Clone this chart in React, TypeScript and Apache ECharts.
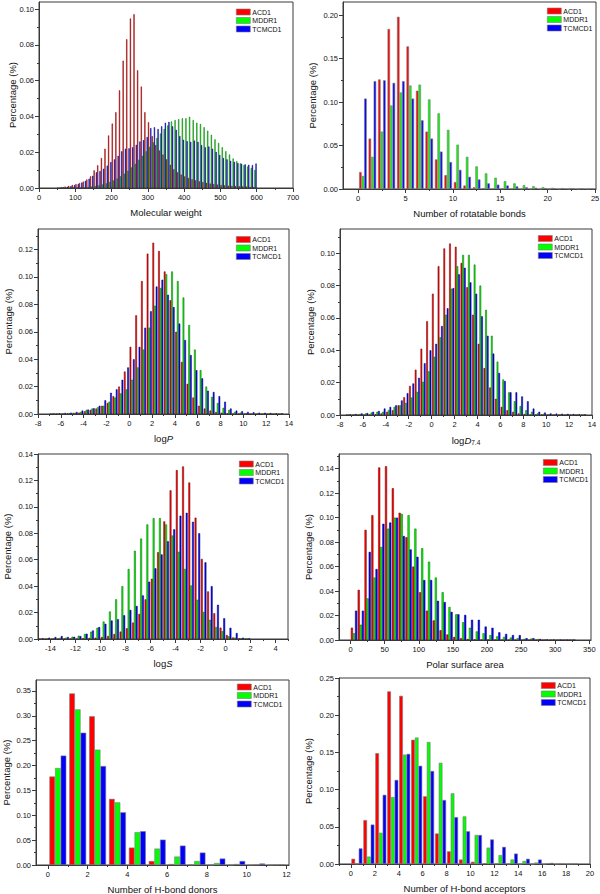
import React, { useEffect, useRef } from "react";
import * as echarts from "echarts";

const SERIES_NAMES = ["ACD1", "MDDR1", "TCMCD1"];
const FILL = ["#ff0000", "#00ff00", "#0000ff"];
const THIN_EDGE = ["#6e0000", "#005f00", "#00006e"];
const EDGE = "#7a7a7a";
const AXIS = "#3a3a3a";
const TEXT = "#111111";
const FONT = '"Liberation Sans", Arial, Helvetica, sans-serif';

// ---------- Molecular weight ----------
const mwBins = [55, 65, 75, 85, 95, 105, 115, 125, 135, 145, 155, 165, 175, 185, 195, 205, 215, 225, 235, 245, 255, 265, 275, 285, 295, 305, 315, 325, 335, 345, 355, 365, 375, 385, 395, 405, 415, 425, 435, 445, 455, 465, 475, 485, 495, 505, 515, 525, 535, 545, 555, 565, 575, 585, 595];
const mwACD1 = [0.0003, 0.0005, 0.0008, 0.0012, 0.0017, 0.0022, 0.0028, 0.0036, 0.0048, 0.0065, 0.0099, 0.0127, 0.0168, 0.022, 0.0294, 0.036, 0.0424, 0.0546, 0.0712, 0.0832, 0.0948, 0.0972, 0.0658, 0.0567, 0.0424, 0.0368, 0.029, 0.024, 0.021, 0.0187, 0.016, 0.013, 0.0105, 0.0088, 0.0075, 0.0065, 0.0056, 0.0049, 0.0043, 0.0037, 0.0033, 0.0029, 0.0025, 0.0022, 0.0019, 0.0017, 0.0015, 0.0013, 0.0012, 0.0011, 0.001, 0.0009, 0.0008, 0.0007, 0.0006];
const mwMDDR1 = [0, 0, 0, 0, 0.0001, 0.0001, 0.0002, 0.0003, 0.0005, 0.0008, 0.0011, 0.0015, 0.002, 0.0026, 0.0033, 0.0042, 0.0053, 0.0066, 0.008, 0.0096, 0.0115, 0.0135, 0.0158, 0.018, 0.0205, 0.023, 0.0255, 0.028, 0.0305, 0.033, 0.035, 0.0372, 0.038, 0.0385, 0.039, 0.039, 0.0398, 0.038, 0.0365, 0.0358, 0.034, 0.032, 0.0297, 0.0272, 0.0252, 0.0228, 0.0206, 0.0187, 0.0165, 0.015, 0.0138, 0.0128, 0.012, 0.0112, 0.0101];
const mwTCMCD1 = [0.0002, 0.0004, 0.0007, 0.0011, 0.0016, 0.0022, 0.003, 0.004, 0.0052, 0.0068, 0.0088, 0.0095, 0.0108, 0.0125, 0.0145, 0.016, 0.018, 0.0205, 0.022, 0.0222, 0.0228, 0.0242, 0.026, 0.0268, 0.0285, 0.0335, 0.034, 0.033, 0.0345, 0.0365, 0.037, 0.0345, 0.0325, 0.029, 0.027, 0.0262, 0.0258, 0.0265, 0.0258, 0.024, 0.0228, 0.0232, 0.022, 0.0202, 0.0185, 0.0168, 0.016, 0.0152, 0.0146, 0.014, 0.0135, 0.0132, 0.013, 0.0128, 0.0137];
const mwXTicks = [0, 100, 200, 300, 400, 500, 600, 700];
const mwYTicks = [0, 0.02, 0.04, 0.06, 0.08, 0.1];

// ---------- Rotatable bonds ----------
const rbBins = [0.5, 1.5, 2.5, 3.5, 4.5, 5.5, 6.5, 7.5, 8.5, 9.5, 10.5, 11.5, 12.5, 13.5, 14.5, 15.5, 16.5, 17.5, 18.5, 19.5, 20.5, 21.5, 22.5, 23.5, 24.5];
const rbACD1 = [0.0195, 0.058, 0.126, 0.184, 0.198, 0.164, 0.113, 0.066, 0.034, 0.016, 0.008, 0.004, 0.002, 0.001, 0.0006, 0.0004, 0.0003, 0.0002, 0.0001, 0.0001, 0, 0, 0, 0, 0];
const rbMDDR1 = [0.015, 0.037, 0.066, 0.096, 0.111, 0.119, 0.12, 0.103, 0.087, 0.068, 0.051, 0.037, 0.026, 0.018, 0.013, 0.009, 0.0065, 0.0045, 0.0033, 0.0022, 0.0014, 0.001, 0.0008, 0.0006, 0.0005];
const rbTCMCD1 = [0.104, 0.124, 0.125, 0.122, 0.124, 0.104, 0.079, 0.058, 0.043, 0.031, 0.022, 0.014, 0.011, 0.0065, 0.005, 0.004, 0.003, 0.002, 0.0015, 0.001, 0.0008, 0.0006, 0.0005, 0.0005, 0.0004];
const rbXTicks = [0, 5, 10, 15, 20, 25];
const rbYTicks = [0, 0.05, 0.1, 0.15, 0.2];

// ---------- logP ----------
const logPBins = [-6.75, -6.25, -5.75, -5.25, -4.75, -4.25, -3.75, -3.25, -2.75, -2.25, -1.75, -1.25, -0.75, -0.25, 0.25, 0.75, 1.25, 1.75, 2.25, 2.75, 3.25, 3.75, 4.25, 4.75, 5.25, 5.75, 6.25, 6.75, 7.25, 7.75, 8.25, 8.75, 9.25, 9.75, 10.25, 10.75, 11.25, 11.75, 12.25, 12.75, 13.25];
const logPACD1 = [0.0001, 0.0002, 0.0003, 0.0005, 0.0008, 0.001, 0.002, 0.003, 0.004, 0.006, 0.008, 0.013, 0.02, 0.031, 0.049, 0.072, 0.097, 0.117, 0.125, 0.119, 0.104, 0.083, 0.06, 0.038, 0.022, 0.012, 0.006, 0.004, 0.0025, 0.0015, 0.001, 0.0005, 0.0003, 0.0002, 0.0001, 0, 0, 0, 0, 0, 0];
const logPMDDR1 = [0.0002, 0.0003, 0.0004, 0.0006, 0.0009, 0.0015, 0.003, 0.004, 0.005, 0.006, 0.009, 0.012, 0.015, 0.018, 0.025, 0.034, 0.047, 0.063, 0.079, 0.092, 0.102, 0.104, 0.097, 0.085, 0.065, 0.047, 0.032, 0.02, 0.0125, 0.008, 0.0045, 0.003, 0.0015, 0.001, 0.0005, 0.0003, 0.0002, 0.0001, 0.0001, 0, 0];
const logPTCMCD1 = [0.0003, 0.0005, 0.0008, 0.001, 0.0015, 0.0025, 0.0032, 0.0042, 0.006, 0.01, 0.0155, 0.018, 0.025, 0.034, 0.04, 0.049, 0.063, 0.075, 0.093, 0.098, 0.087, 0.078, 0.066, 0.054, 0.043, 0.032, 0.026, 0.017, 0.016, 0.013, 0.009, 0.004, 0.0025, 0.002, 0.0015, 0.0012, 0.001, 0.0009, 0.0007, 0.0006, 0.0005];
const logXTicks = [-8, -6, -4, -2, 0, 2, 4, 6, 8, 10, 12, 14];
const logPYTicks = [0, 0.02, 0.04, 0.06, 0.08, 0.1, 0.12];

// ---------- logD7.4 ----------
const logDBins = [-7.25, -6.75, -6.25, -5.75, -5.25, -4.75, -4.25, -3.75, -3.25, -2.75, -2.25, -1.75, -1.25, -0.75, -0.25, 0.25, 0.75, 1.25, 1.75, 2.25, 2.75, 3.25, 3.75, 4.25, 4.75, 5.25, 5.75, 6.25, 6.75, 7.25, 7.75, 8.25, 8.75, 9.25, 9.75, 10.25, 10.75, 11.25, 11.75, 12.25, 12.75, 13.25];
const logDACD1 = [0, 0, 0.0001, 0.0002, 0.0003, 0.0005, 0.001, 0.002, 0.003, 0.006, 0.011, 0.018, 0.028, 0.041, 0.058, 0.075, 0.092, 0.103, 0.106, 0.104, 0.094, 0.079, 0.062, 0.044, 0.029, 0.017, 0.01, 0.005, 0.003, 0.002, 0.001, 0.0006, 0.0003, 0.0002, 0.0001, 0, 0, 0, 0, 0, 0, 0];
const logDMDDR1 = [0.0002, 0.0004, 0.0006, 0.001, 0.0015, 0.002, 0.002, 0.003, 0.005, 0.006, 0.0075, 0.0108, 0.0143, 0.0205, 0.027, 0.036, 0.048, 0.062, 0.078, 0.092, 0.099, 0.099, 0.093, 0.08, 0.065, 0.049, 0.033, 0.022, 0.014, 0.0085, 0.0055, 0.003, 0.002, 0.001, 0.0006, 0.0004, 0.0002, 0.0001, 0.0001, 0, 0, 0];
const logDTCMCD1 = [0.0004, 0.0006, 0.001, 0.0012, 0.002, 0.0025, 0.004, 0.005, 0.006, 0.009, 0.0135, 0.0195, 0.023, 0.032, 0.04, 0.044, 0.055, 0.066, 0.0785, 0.087, 0.091, 0.082, 0.075, 0.061, 0.049, 0.038, 0.026, 0.021, 0.014, 0.014, 0.0115, 0.0085, 0.004, 0.002, 0.0015, 0.001, 0.0009, 0.0008, 0.0007, 0.0006, 0.0005, 0.0004];
const logDYTicks = [0, 0.02, 0.04, 0.06, 0.08, 0.1];

// ---------- logS ----------
const logSBins = [-14.75, -14.25, -13.75, -13.25, -12.75, -12.25, -11.75, -11.25, -10.75, -10.25, -9.75, -9.25, -8.75, -8.25, -7.75, -7.25, -6.75, -6.25, -5.75, -5.25, -4.75, -4.25, -3.75, -3.25, -2.75, -2.25, -1.75, -1.25, -0.75, -0.25, 0.25, 0.75, 1.25, 1.75];
const logSACD1 = [0, 0, 0, 0, 0.0001, 0.0001, 0.0003, 0.0005, 0.0008, 0.001, 0.0015, 0.0023, 0.0038, 0.0056, 0.0081, 0.0124, 0.019, 0.03, 0.0456, 0.0657, 0.089, 0.1125, 0.1278, 0.1306, 0.1184, 0.0918, 0.0606, 0.036, 0.0195, 0.0086, 0.003, 0.0012, 0.0005, 0.0002];
const logSMDDR1 = [0.0002, 0.0003, 0.0005, 0.0008, 0.001, 0.0017, 0.0025, 0.0038, 0.0055, 0.0085, 0.0132, 0.0208, 0.03, 0.04, 0.053, 0.0667, 0.076, 0.0867, 0.0915, 0.0915, 0.0867, 0.0783, 0.066, 0.053, 0.0405, 0.0297, 0.0205, 0.0145, 0.009, 0.006, 0.002, 0.001, 0.0005, 0.0002];
const logSTCMCD1 = [0.0005, 0.001, 0.0015, 0.0022, 0.0015, 0.0017, 0.0022, 0.004, 0.0065, 0.009, 0.0115, 0.014, 0.015, 0.018, 0.022, 0.025, 0.033, 0.0434, 0.0535, 0.064, 0.074, 0.083, 0.0933, 0.0955, 0.0887, 0.08, 0.058, 0.04, 0.0259, 0.0157, 0.0085, 0.0045, 0.001, 0.0005];
const logSXTicks = [-14, -12, -10, -8, -6, -4, -2, 0, 2, 4];
const logSYTicks = [0, 0.02, 0.04, 0.06, 0.08, 0.1, 0.12, 0.14];

// ---------- Polar surface area ----------
const psaBins = [5, 15, 25, 35, 45, 55, 65, 75, 85, 95, 105, 115, 125, 135, 145, 155, 165, 175, 185, 195, 205, 215, 225, 235, 245, 255, 265, 275, 285, 295, 305, 315, 325];
const psaACD1 = [0.0101, 0.041, 0.09, 0.102, 0.141, 0.142, 0.124, 0.104, 0.084, 0.06, 0.039, 0.024, 0.016, 0.008, 0.0045, 0.0025, 0.0015, 0.0008, 0.0005, 0.0003, 0.0002, 0.0001, 0, 0, 0, 0, 0, 0, 0, 0, 0, 0, 0];
const psaMDDR1 = [0.0055, 0.0125, 0.034, 0.051, 0.076, 0.091, 0.1, 0.103, 0.102, 0.091, 0.075, 0.064, 0.051, 0.039, 0.027, 0.021, 0.0145, 0.01, 0.007, 0.0055, 0.004, 0.003, 0.0025, 0.002, 0.0015, 0.001, 0.0012, 0.0008, 0.0005, 0.0004, 0.0003, 0.0002, 0.0001];
const psaTCMCD1 = [0.024, 0.024, 0.072, 0.058, 0.095, 0.096, 0.1, 0.085, 0.074, 0.068, 0.049, 0.049, 0.032, 0.031, 0.023, 0.021, 0.0205, 0.0165, 0.0165, 0.011, 0.01, 0.0063, 0.005, 0.004, 0.004, 0.0015, 0.0015, 0.0008, 0.0005, 0.0003, 0.0002, 0.0001, 0.0001];
const psaXTicks = [0, 50, 100, 150, 200, 250, 300, 350];
const psaYTicks = [0, 0.02, 0.04, 0.06, 0.08, 0.1, 0.12, 0.14];

// ---------- H-bond donors ----------
const hbdBins = [0.5, 1.5, 2.5, 3.5, 4.5, 5.5, 6.5, 7.5, 8.5, 9.5, 10.5, 11.5];
const hbdACD1 = [0.178, 0.345, 0.299, 0.133, 0.035, 0.008, 0.002, 0.0005, 0.0002, 0.0001, 0, 0];
const hbdMDDR1 = [0.195, 0.313, 0.232, 0.126, 0.066, 0.033, 0.017, 0.008, 0.004, 0.002, 0.0008, 0.0005];
const hbdTCMCD1 = [0.22, 0.266, 0.199, 0.106, 0.068, 0.051, 0.039, 0.025, 0.013, 0.008, 0.003, 0.001];
const hbdXTicks = [0, 2, 4, 6, 8, 10, 12];
const hbdYTicks = [0, 0.05, 0.1, 0.15, 0.2, 0.25, 0.3, 0.35];

// ---------- H-bond acceptors ----------
const hbaBins = [0.5, 1.5, 2.5, 3.5, 4.5, 5.5, 6.5, 7.5, 8.5, 9.5, 10.5, 11.5, 12.5, 13.5, 14.5, 15.5, 16.5, 17.5, 18.5];
const hbaACD1 = [0.007, 0.059, 0.149, 0.232, 0.226, 0.167, 0.091, 0.041, 0.017, 0.006, 0.003, 0.001, 0.0005, 0.0002, 0.0001, 0, 0, 0, 0];
const hbaMDDR1 = [0.0005, 0.01, 0.042, 0.09, 0.147, 0.17, 0.164, 0.136, 0.095, 0.064, 0.039, 0.022, 0.012, 0.006, 0.004, 0.002, 0.001, 0.0005, 0.0003];
const hbaTCMCD1 = [0.021, 0.053, 0.093, 0.113, 0.148, 0.132, 0.125, 0.086, 0.063, 0.044, 0.039, 0.033, 0.023, 0.014, 0.007, 0.006, 0.0015, 0.0005, 0.0003];
const hbaXTicks = [0, 2, 4, 6, 8, 10, 12, 14, 16, 18, 20];
const hbaYTicks = [0, 0.05, 0.1, 0.15, 0.2, 0.25];

type Panel = {
  g: [number, number, number, number];
  bins: number[];
  vals: number[][];
  xMin: number; xMax: number; xTicks: number[];
  yMax: number; yTicks: number[];
  xName: string; yGap: number;
  lg: [number, number];
  gap: string;
  edge: "thin" | "dense" | "grey";
};

const panels: Panel[] = [
  { g: [39, 2, 254, 186], bins: mwBins, vals: [mwACD1, mwMDDR1, mwTCMCD1], xMin: 0, xMax: 700, xTicks: mwXTicks, yMax: 0.104, yTicks: mwYTicks, xName: "Molecular weight", yGap: 22, lg: [236, 8.5], gap: "6%", edge: "thin" },
  { g: [343, 2, 253, 187], bins: rbBins, vals: [rbACD1, rbMDDR1, rbTCMCD1], xMin: -1.6, xMax: 25.1, xTicks: rbXTicks, yMax: 0.215, yTicks: rbYTicks, xName: "Number of rotatable bonds", yGap: 26, lg: [547, 7.5], gap: "20%", edge: "grey" },
  { g: [38, 229, 251, 185], bins: logPBins, vals: [logPACD1, logPMDDR1, logPTCMCD1], xMin: -8, xMax: 14, xTicks: logXTicks, yMax: 0.135, yTicks: logPYTicks, xName: "log{i|P}", yGap: 25, lg: [236, 236], gap: "12%", edge: "dense" },
  { g: [340, 229, 252, 186], bins: logDBins, vals: [logDACD1, logDMDDR1, logDTCMCD1], xMin: -8, xMax: 14, xTicks: logXTicks, yMax: 0.115, yTicks: logDYTicks, xName: "log{i|D}{s|7.4}", yGap: 25, lg: [538, 235], gap: "12%", edge: "dense" },
  { g: [38, 454, 250, 185], bins: logSBins, vals: [logSACD1, logSMDDR1, logSTCMCD1], xMin: -15, xMax: 5, xTicks: logSXTicks, yMax: 0.14, yTicks: logSYTicks, xName: "log{i|S}", yGap: 26, lg: [239, 460.5], gap: "12%", edge: "dense" },
  { g: [339, 454, 252, 186], bins: psaBins, vals: [psaACD1, psaMDDR1, psaTCMCD1], xMin: -17, xMax: 352.5, xTicks: psaXTicks, yMax: 0.152, yTicks: psaYTicks, xName: "Polar surface area", yGap: 26, lg: [543, 459], gap: "8%", edge: "dense" },
  { g: [36, 680, 253, 185], bins: hbdBins, vals: [hbdACD1, hbdMDDR1, hbdTCMCD1], xMin: -0.6, xMax: 12.13, xTicks: hbdXTicks, yMax: 0.372, yTicks: hbdYTicks, xName: "Number of H-bond donors", yGap: 25, lg: [237, 683.5], gap: "15%", edge: "grey" },
  { g: [339, 678, 251, 186], bins: hbaBins, vals: [hbaACD1, hbaMDDR1, hbaTCMCD1], xMin: -1, xMax: 20, xTicks: hbaXTicks, yMax: 0.25, yTicks: hbaYTicks, xName: "Number of H-bond acceptors", yGap: 26, lg: [541, 682], gap: "8%", edge: "grey" },
];

function minors(ticks: number[], min: number, max: number): number[] {
  const half = (ticks[1] - ticks[0]) / 2;
  const out: number[] = [];
  const first = ticks[0] - half;
  if (first >= min - 1e-9) out.push(+first.toFixed(6));
  ticks.forEach((t) => {
    const m = t + half;
    if (m <= max + 1e-9) out.push(+m.toFixed(6));
  });
  return out;
}

function edgeStyle(kind: Panel["edge"], s: number) {
  if (kind === "thin") return { borderColor: THIN_EDGE[s], borderWidth: 0.45 };
  if (kind === "dense") return { borderColor: THIN_EDGE[s], borderWidth: 0.5 };
  return { borderColor: EDGE, borderWidth: 0.6 };
}

function buildOption() {
  const grid: any[] = [];
  const xAxis: any[] = [];
  const yAxis: any[] = [];
  const series: any[] = [];
  const legend: any[] = [];
  const nameStyle = {
    fontSize: 9.5,
    fontFamily: FONT,
    color: TEXT,
    rich: {
      i: { fontSize: 9.5, fontStyle: "italic", fontFamily: FONT, color: TEXT },
      s: { fontSize: 6.5, fontFamily: FONT, color: TEXT, padding: [5, 0, 0, 0] },
    },
  };
  panels.forEach((p, i) => {
    grid.push({
      left: p.g[0], top: p.g[1], width: p.g[2], height: p.g[3],
      show: true, borderColor: AXIS, borderWidth: 1, backgroundColor: "transparent",
      containLabel: false, outerBoundsMode: "none",
    });
    const xMinor = minors(p.xTicks, p.xMin, p.xMax);
    const yMinor = minors(p.yTicks, 0, p.yMax);
    xAxis.push({
      type: "value", gridIndex: i, min: p.xMin, max: p.xMax, position: "bottom",
      axisLine: { show: true, onZero: false, lineStyle: { color: AXIS, width: 1 } },
      axisTick: { show: true, inside: false, length: 4, customValues: p.xTicks, lineStyle: { color: AXIS, width: 1 } },
      axisLabel: { show: true, customValues: p.xTicks, margin: 5, fontSize: 7.5, color: TEXT, fontFamily: FONT, formatter: (v: number) => String(v) },
      splitLine: { show: false },
      name: p.xName, nameLocation: "middle", nameGap: 19, nameMoveOverlap: false, nameTextStyle: nameStyle,
    });
    xAxis.push({
      type: "value", gridIndex: i, min: p.xMin, max: p.xMax, position: "bottom",
      axisLine: { show: false, onZero: false },
      axisTick: { show: true, inside: false, length: 2, customValues: xMinor, lineStyle: { color: AXIS, width: 1 } },
      axisLabel: { show: false },
      splitLine: { show: false },
    });
    yAxis.push({
      type: "value", gridIndex: i, min: 0, max: p.yMax, position: "left",
      axisLine: { show: true, onZero: false, lineStyle: { color: AXIS, width: 1 } },
      axisTick: { show: true, inside: false, length: 4, customValues: p.yTicks, lineStyle: { color: AXIS, width: 1 } },
      axisLabel: { show: true, customValues: p.yTicks, margin: 5, fontSize: 7.5, color: TEXT, fontFamily: FONT, formatter: (v: number) => v.toFixed(2) },
      splitLine: { show: false },
      name: "Percentage (%)", nameLocation: "middle", nameGap: p.yGap, nameMoveOverlap: false,
      nameTextStyle: { fontSize: 9.5, fontFamily: FONT, color: TEXT },
    });
    yAxis.push({
      type: "value", gridIndex: i, min: 0, max: p.yMax, position: "left",
      axisLine: { show: false, onZero: false },
      axisTick: { show: true, inside: false, length: 2, customValues: yMinor, lineStyle: { color: AXIS, width: 1 } },
      axisLabel: { show: false },
      splitLine: { show: false },
    });
    SERIES_NAMES.forEach((name, s) => {
      series.push({
        type: "bar", name,
        xAxisIndex: 2 * i, yAxisIndex: 2 * i,
        data: p.bins.map((b, k) => [b, p.vals[s][k] ?? 0]),
        barGap: "0%", barCategoryGap: p.gap,
        itemStyle: { color: FILL[s], ...edgeStyle(p.edge, s) },
        silent: true,
        emphasis: { disabled: true },
        animation: false,
      });
    });
    legend.push({
      left: p.lg[0], top: p.lg[1], orient: "vertical",
      itemWidth: 14, itemHeight: 6, itemGap: 1.5, icon: "rect", padding: 0,
      selectedMode: false,
      textStyle: { fontSize: 7, fontFamily: FONT, color: TEXT, lineHeight: 7, padding: [0, 0, 0, -3] },
      data: SERIES_NAMES.map((n, s) => ({ name: n, itemStyle: { color: FILL[s], borderColor: EDGE, borderWidth: 0.6 } })),
    });
  });
  return {
    animation: false,
    backgroundColor: "#ffffff",
    textStyle: { fontFamily: FONT },
    grid, xAxis, yAxis, series, legend,
  };
}

export default function App() {
  const ref = useRef<HTMLDivElement>(null);
  useEffect(() => {
    if (!ref.current) return;
    const chart = echarts.init(ref.current, null, { renderer: "svg" });
    chart.setOption(buildOption() as any);
    return () => chart.dispose();
  }, []);
  return (
    <div
      ref={ref}
      style={{ position: "absolute", left: 0, top: 0, width: 600, height: 894, background: "#fff" }}
    />
  );
}
